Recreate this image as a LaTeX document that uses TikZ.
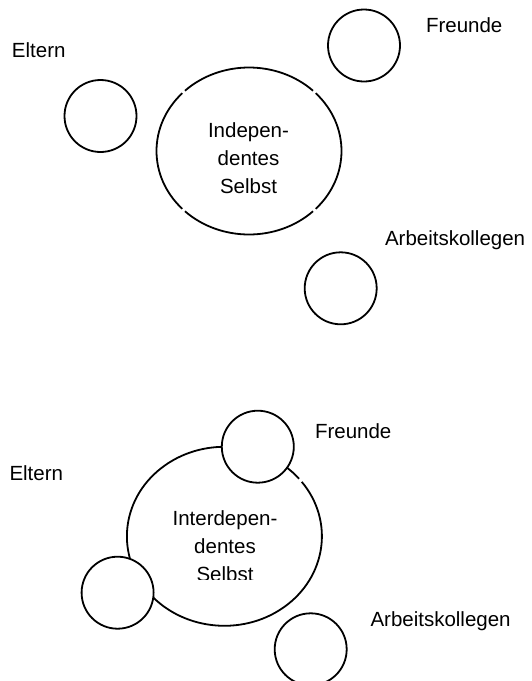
\documentclass[tikz,border=0pt]{standalone}
\usepackage{fontspec}
\setmainfont{Liberation Sans}
\begin{document}
\begin{tikzpicture}[x=1pt,y=-1pt,
  every node/.style={font=\fontsize{20.5}{24}\selectfont, inner sep=0pt, outer sep=0pt},
  lbl/.style={anchor=base west},
  midtxt/.style={anchor=base},
  other/.style={circle, draw, line width=1.8pt, fill=white, minimum size=72pt},
  rim/.style={line width=1.8pt}
]
\useasboundingbox (0,0) rectangle (531,681);

% ---------- independent self ----------
\coordinate (selfA) at (249,151);
\foreach \a in {45,135,225,315}
  \draw[rim] (selfA) ++(\a+1.2:92.5 and 83.5)
    arc[start angle=\a+1.2, end angle=\a+88.8, x radius=92.5, y radius=83.5];
\node[midtxt] (a1) at (248.5,137.3) {Indepen-};
\node[midtxt] (a2) at (248.5,165) {dentes};
\node[midtxt] (a3) at (248.5,193) {Selbst};

\node[other] (eltA) at (100.5,116) {};
\node[other] (frA)  at (364,45.5) {};
\node[other] (arbA) at (340.7,288.3) {};

\node[lbl] (eltAt) at (12,57.5) {Eltern};
\node[lbl] (frAt)  at (426,32) {Freunde};
\node[lbl] (arbAt) at (385,245) {Arbeitskollegen};

% ---------- interdependent self ----------
\coordinate (selfB) at (224.4,536.3);
\draw[rim] (selfB) ++(-37.5:97.5 and 89.5)
  arc[start angle=-37.5, end angle=320, x radius=97.5, y radius=89.5];
\node[midtxt] (b1) at (225,525.7) {Interdepen-};
\node[midtxt] (b2) at (225,553.3) {dentes};
\begin{scope}
  \clip (0,0) rectangle (531,579.5);
  \node[midtxt] (b3) at (225,581) {Selbst};
\end{scope}

\node[other] (frB)  at (257.8,446.7) {};
\node[other] (eltB) at (117.6,592.7) {};
\node[other] (arbB) at (310.7,649.3) {};

\node[lbl] (eltBt) at (9.5,480) {Eltern};
\node[lbl] (frBt)  at (315,438) {Freunde};
\node[lbl] (arbBt) at (370.5,626) {Arbeitskollegen};
\end{tikzpicture}
\end{document}
